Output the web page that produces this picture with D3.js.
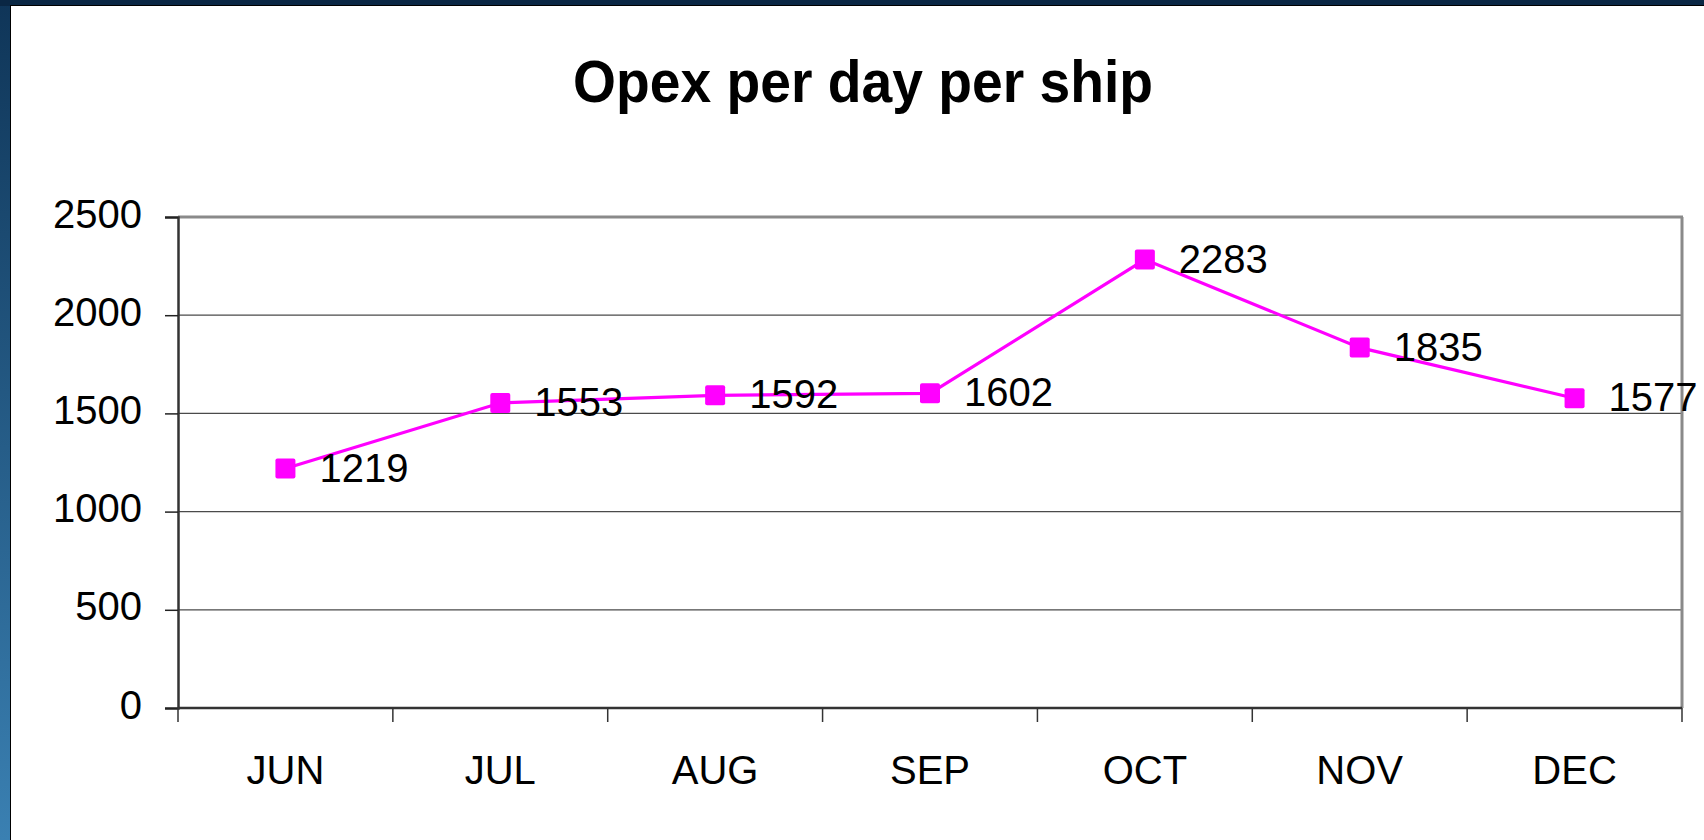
<html>
<head>
<title>Opex per day per ship</title>
<script src="https://d3js.org/d3.v7.min.js"></script>
<style>
  body { margin: 0; background: white; }
  text { font-family: "Liberation Sans", Arial, sans-serif; fill: black; }
  .tick-label { font-size: 40px; }
  .data-label { font-size: 40px; }
  .title { font-size: 60px; font-weight: bold; }
</style>
</head>
<body>
<svg id="chart" width="1704" height="840"></svg>
<script>
  // data
  const months = ["JUN", "JUL", "AUG", "SEP", "OCT", "NOV", "DEC"];
  const opex = [1219, 1553, 1592, 1602, 2283, 1835, 1577];
  const yTicks = [0, 500, 1000, 1500, 2000, 2500];

  const svg = d3.select("#chart");
  const width = +svg.attr("width");
  const height = +svg.attr("height");

  // slide background: blue frame on top and left
  const defs = svg.append("defs");
  const grad = defs.append("linearGradient").attr("id", "side")
      .attr("x1", 0).attr("y1", 0).attr("x2", 0).attr("y2", 1);
  grad.append("stop").attr("offset", "0%").attr("stop-color", "#0f3558");
  grad.append("stop").attr("offset", "100%").attr("stop-color", "#3a80b2");
  svg.append("rect").attr("width", width).attr("height", height).attr("fill", "url(#side)");
  svg.append("rect").attr("width", width).attr("height", 6).attr("fill", "#0a2744");
  svg.append("rect").attr("x", 10).attr("y", 5).attr("width", width - 10).attr("height", height - 5)
      .attr("fill", "black");
  svg.append("rect").attr("x", 11).attr("y", 6).attr("width", width - 11).attr("height", height - 6)
      .attr("fill", "white");

  const margin = { top: 217, right: 22, bottom: 132, left: 178 };
  const plotW = width - margin.left - margin.right;
  const plotH = height - margin.top - margin.bottom;

  // title is a bit narrower than plain Arial bold in the original
  svg.append("text").attr("class", "title")
      .attr("x", 863).attr("y", 102)
      .attr("text-anchor", "middle")
      .attr("textLength", 580)
      .attr("lengthAdjust", "spacingAndGlyphs")
      .text("Opex per day per ship");

  const g = svg.append("g").attr("transform", "translate(" + margin.left + "," + margin.top + ")");

  const x = d3.scaleBand().domain(months).range([0, plotW]);
  const y = d3.scaleLinear().domain([0, 2500]).range([plotH, 0]);

  // gridlines
  g.selectAll("line.grid").data(yTicks.filter(d => d > 0 && d < 2500))
    .join("line")
      .attr("class", "grid")
      .attr("x1", 0).attr("x2", plotW)
      .attr("y1", d => y(d)).attr("y2", d => y(d))
      .attr("stroke", "#4a4a4a").attr("stroke-width", 1.2);

  // plot frame top and right (gray)
  g.append("line").attr("x1", 0).attr("x2", plotW + 1).attr("y1", 0).attr("y2", 0)
      .attr("stroke", "#8a8a8a").attr("stroke-width", 3);
  g.append("line").attr("x1", plotW).attr("x2", plotW).attr("y1", 0).attr("y2", plotH)
      .attr("stroke", "#8a8a8a").attr("stroke-width", 3);

  // y axis
  const yAxis = g.append("g")
      .call(d3.axisLeft(y).tickValues(yTicks).tickSize(13).tickPadding(23).tickFormat(d3.format("d")));
  yAxis.select(".domain").attr("stroke", "#333").attr("stroke-width", 2.5);
  yAxis.selectAll(".tick line").attr("stroke", "#222").attr("stroke-width", 1.5);
  yAxis.selectAll(".tick text").attr("class", "tick-label").attr("dy", "0.25em").attr("font-family", null).attr("font-size", null);

  // x axis with ticks between categories
  const xAxis = g.append("g").attr("transform", "translate(0," + plotH + ")");
  xAxis.append("line").attr("x1", 0).attr("x2", plotW).attr("stroke", "#333").attr("stroke-width", 2.5);
  const bounds = months.map(m => x(m)).concat([plotW]);
  xAxis.selectAll("line.xt").data(bounds)
    .join("line").attr("class", "xt")
      .attr("x1", d => d).attr("x2", d => d).attr("y1", 0).attr("y2", 14)
      .attr("stroke", "#333").attr("stroke-width", 1.5);
  xAxis.selectAll("text").data(months)
    .join("text").attr("class", "tick-label")
      .attr("x", d => x(d) + x.bandwidth() / 2)
      .attr("y", 76)
      .attr("text-anchor", "middle")
      .text(d => d);

  // series
  const cx = (d, i) => x(months[i]) + x.bandwidth() / 2;
  const line = d3.line().x((d, i) => cx(d, i)).y(d => y(d));
  g.append("path").datum(opex)
      .attr("d", line)
      .attr("fill", "none").attr("stroke", "#ff00ff").attr("stroke-width", 3.2);

  g.selectAll("rect.marker").data(opex)
    .join("rect").attr("class", "marker")
      .attr("x", (d, i) => cx(d, i) - 10).attr("y", d => y(d) - 10)
      .attr("width", 20).attr("height", 20).attr("rx", 2)
      .attr("fill", "#ff00ff");

  g.selectAll("text.data-label").data(opex)
    .join("text").attr("class", "data-label")
      .attr("x", (d, i) => cx(d, i) + 34)
      .attr("y", d => y(d) + 13)
      .text(d => d);
</script>
</body>
</html>
